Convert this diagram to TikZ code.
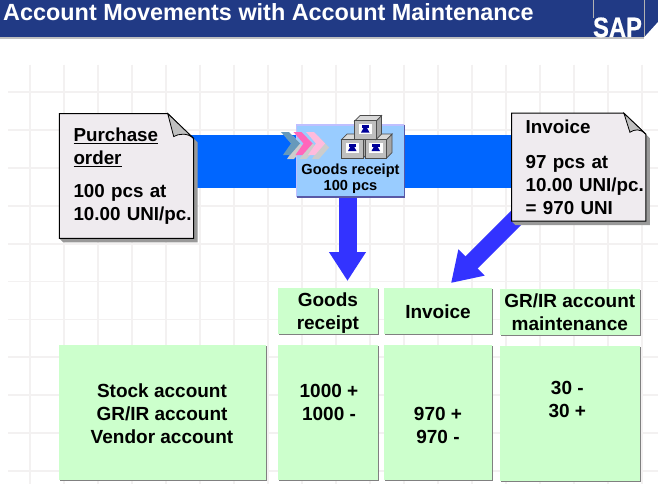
\documentclass[tikz,border=0pt]{standalone}
\usepackage{fontspec}
\setmainfont{Liberation Sans}
\usetikzlibrary{calc}
\usetikzlibrary{arrows.meta}
\usetikzlibrary{shadows}
\definecolor{headblue}{HTML}{213A85}
\definecolor{bandblue}{HTML}{0066FF}
\definecolor{arrowblue}{HTML}{3333FF}
\definecolor{notefill}{HTML}{EFEBEF}
\definecolor{boxgreen}{HTML}{CCFFCC}
\definecolor{grfill}{HTML}{99CCFF}
\definecolor{gridgray}{HTML}{F3F1F1}
\definecolor{chevblue}{HTML}{6699BB}
\definecolor{chevpink}{HTML}{FF66BB}
\definecolor{chevlight}{HTML}{FFBBDD}
\definecolor{iconblue}{HTML}{000099}
\tikzstyle{bandline} = [bandblue, line width=53pt]
\tikzstyle{flowarrow} = [arrowblue, -{Triangle[length=29pt,width=35pt]}]
\tikzstyle{notenode} = [inner sep=0, minimum width=134pt]
\tikzstyle{notetext} = [inner sep=0, text width=120pt, align=left, font=\fontsize{18.8}{23}\selectfont\bfseries]
\tikzstyle{greenbox} = [fill=boxgreen, inner sep=0, drop shadow={shadow xshift=1.2pt, shadow yshift=-1.2pt, fill=gray, opacity=1}]
\tikzstyle{celltext} = [anchor=base, inner sep=0, align=center, font=\fontsize{19}{23}\selectfont\bfseries]
\newcommand\notesheet[2]{
  \fill[black!40] ($(#1.north east)+(0,#2)$) -- ($(#1.north east)+(4,#2+4)$) -- ($(#1.south east)+(4,4)$) -- ($(#1.south west)+(4,4)$) -- (#1.south west) -- cycle;
  \draw[fill=notefill, line width=1pt] (#1.north west) -- ($(#1.north east)+(-#2-1,0)$) -- ($(#1.north east)+(0,#2)$) -- (#1.south east) -- (#1.south west) -- cycle;
  \draw[fill=gray!50, line width=0.8pt] ($(#1.north east)+(-#2-1,0)$) -- ($(#1.north east)+(-#2+5,#2-2)$) .. controls ($(#1.north east)+(-#2+10,#2-5)$) and ($(#1.north east)+(-6,#2-6)$) .. ($(#1.north east)+(0,#2)$) -- cycle;
}
\newcommand\crate[2]{
  \draw[fill=gray!70, draw=black!70, line width=0.7pt] (#1+21.5,#2) -- (#1+27,#2-5.5) -- (#1+27,#2+13) -- (#1+21.5,#2+18.5) -- cycle;
  \draw[fill=gray!30, draw=black!70, line width=0.7pt] (#1,#2) -- (#1+5.5,#2-5.5) -- (#1+27,#2-5.5) -- (#1+21.5,#2) -- cycle;
  \draw[fill=gray!50, draw=black!70, line width=1pt] (#1,#2) rectangle (#1+21.5,#2+18.5);
  \fill[white] (#1+4,#2+3) rectangle (#1+17.5,#2+13);
  \fill[iconblue] (#1+7,#2+4.5) rectangle (#1+14.5,#2+7);
  \fill[iconblue] (#1+9,#2+7) -- (#1+12.5,#2+7) -- (#1+15,#2+11.5) -- (#1+6.5,#2+11.5) -- cycle;
}
\begin{document}
\begin{tikzpicture}[x=1pt, y=-1pt]
\useasboundingbox (0,0) rectangle (658,484);
\fill[white] (0,0) rectangle (658,484);
% backdrop
\foreach \gx in {0,...,18} {
  \draw[gridgray, line width=1.8pt] (30+34*\gx,65) -- (30+34*\gx,484);
}
\foreach \gy in {0,...,10} {
  \draw[gridgray, line width=1.8pt] (8,92+37.9*\gy) -- (658,92+37.9*\gy);
}
% title bar
\fill[black!25] (0,37) rectangle (644,39);
\fill[headblue] (0,0) rectangle (658,37);
\fill[white] (644,37.5) -- (658,22) -- (658,39) -- cycle;
\draw[gray!60, line width=1pt] (593.5,0) -- (593.5,18);
\draw[gray!60, line width=1pt] (644,0) -- (644,37);
\node[white, anchor=base west, inner sep=0, font=\fontsize{23.4}{28}\selectfont\bfseries] (title) at (3,20.5) {Account Movements with Account Maintenance};
\node[white, anchor=base, inner sep=0, transform shape, xscale=0.85, font=\fontsize{28}{30}\selectfont\bfseries\addfontfeature{FakeBold=0.6}] (logo) at (617.5,37) {SAP};
% nodes
\node[notenode, minimum height=124.5pt] (po) at (126.5,176) {};
\node[notenode, minimum height=107.5pt] (inv) at (578.7,167.2) {};
\node[fill=grfill, minimum width=107.5pt, minimum height=72pt, inner sep=0] (gr) at (350.5,161) {};
\coordinate (gr_tip) at (347.5,281);
\coordinate (inv_tip) at (451,283);
\coordinate (inv_tail) at (521,213);
% flows
\draw[bandline] (po |- gr) -- (inv |- gr);
\draw[flowarrow, line width=18pt] (gr.south -| gr_tip) -- (gr_tip);
\draw[flowarrow, line width=17pt] (inv_tail) -- (inv_tip);
\notesheet{po}{25}
\notesheet{inv}{21}
\node[notetext] (po_text) at ($(po)+(7,0)$) {\underline{Purchase}\\\underline{order}\\[10pt]100 pcs at\\10.00 UNI/pc.};
\node[notetext] (inv_text) at ($(inv)+(7,0)$) {Invoice\\[12pt]97 pcs at\\10.00 UNI/pc.\\= 970 UNI};
% goods receipt
\node[fill=grfill, minimum width=107.5pt, minimum height=72pt, inner sep=0] (gr) at (350.5,161) {};
\draw[blue!25!white, line width=1.5pt] (gr.south west) -- (gr.north west) -- (gr.north east);
\draw[blue!30!gray, line width=1.5pt] (gr.north east) -- (gr.south east) -- (gr.south west);
\foreach \cx/\ccol in {0/chevblue, 12.5/chevpink, 25/chevlight} {
  \fill[gray!40] (285+\cx,136) -- (293+\cx,136) -- (304+\cx,147.5) -- (294+\cx,159) -- (287+\cx,159) -- (295+\cx,147.5) -- cycle;
  \fill[\ccol] (281+\cx,132) -- (289+\cx,132) -- (300+\cx,143.5) -- (290+\cx,155) -- (283+\cx,155) -- (291+\cx,143.5) -- cycle;
}
\crate{341.5}{139.5}
\crate{365}{139.5}
\crate{354.5}{121}
\node[anchor=base, inner sep=0, align=center, font=\fontsize{14.6}{16}\selectfont\bfseries] (gr_text) at (350.5,190) {Goods receipt\\100 pcs};
% table
\node[greenbox, minimum width=100.3pt, minimum height=46pt] (head_gr) at (327.9,311) {};
\node[greenbox, minimum width=108pt, minimum height=46pt] (head_inv) at (438,311) {};
\node[greenbox, minimum width=139.5pt, minimum height=46pt] (head_maint) at (569.8,312) {};
\node[greenbox, minimum width=207pt, minimum height=135pt] (accounts) at (162,412.5) {};
\node[greenbox, minimum width=100.3pt, minimum height=135pt] (val_gr) at (327.9,412.5) {};
\node[greenbox, minimum width=108pt, minimum height=135pt] (val_inv) at (438,412.5) {};
\node[greenbox, minimum width=139.5pt, minimum height=135pt] (val_maint) at (569.8,413.5) {};
\node[celltext] (head_gr_text) at (327.9,329) {Goods\\receipt};
\node[celltext] (head_inv_text) at (438,318) {Invoice};
\node[celltext] (head_maint_text) at (569.8,330) {GR/IR account\\maintenance};
\node[celltext] (accounts_text) at (162,443) {Stock account\\GR/IR account\\Vendor account};
\node[celltext] (val_gr_text) at (329,420) {1000 +\\1000 -};
\node[celltext] (val_inv_text) at (438,443) {970 +\\970 -};
\node[celltext] (val_maint_text) at (567.3,417) {30 -\\30 +};
\end{tikzpicture}
\end{document}
